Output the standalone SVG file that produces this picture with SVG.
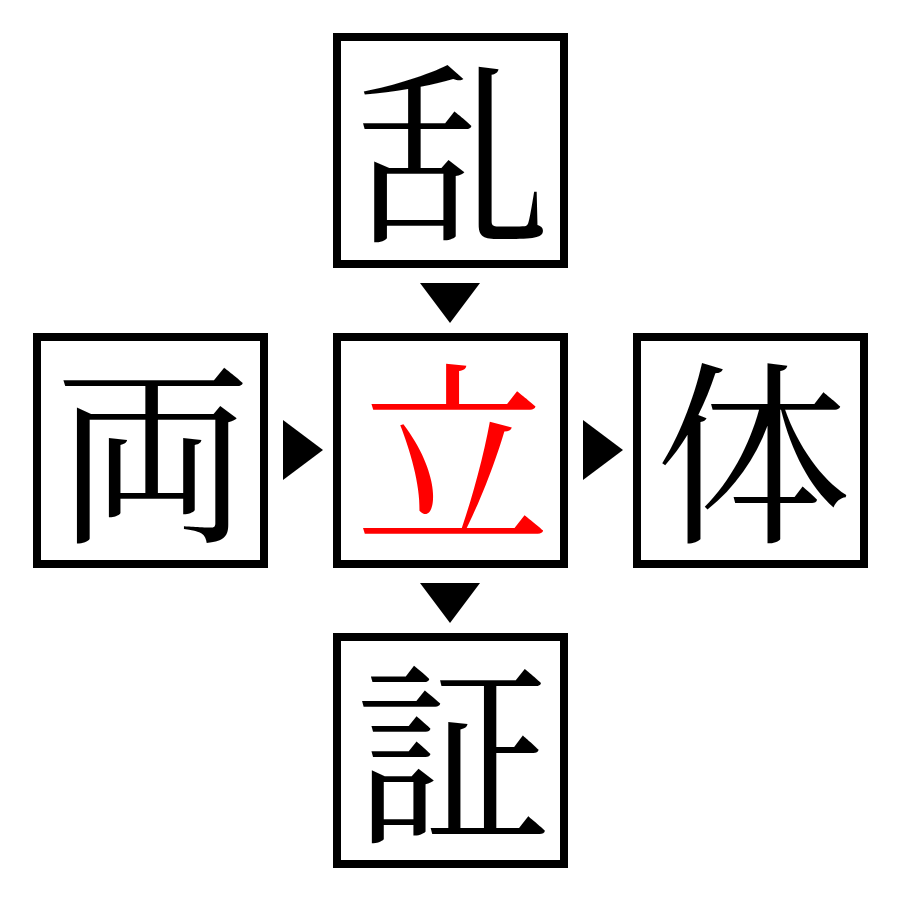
<svg xmlns="http://www.w3.org/2000/svg" width="900" height="900" viewBox="0 0 900 900">
<style>
.box{fill:#fff;stroke:#000;stroke-width:8}
.k{font-family:"Noto Serif CJK JP","Noto Sans CJK JP",serif;font-size:196px;text-anchor:middle;dominant-baseline:central;fill:#000}
.c{fill:#f00}
.tri{fill:#000}
</style>
<rect width="900" height="900" fill="#fff"/>
<g id="n-top"><rect class="box" x="337" y="37" width="227" height="227"/><text class="k" x="453" y="142">乱</text></g>
<g id="n-left"><rect class="box" x="37" y="337" width="227" height="227"/><text class="k" x="153" y="442">両</text></g>
<g id="n-center"><rect class="box" x="337" y="337" width="227" height="227"/><text class="k c" x="453" y="442">立</text></g>
<g id="n-right"><rect class="box" x="637" y="337" width="227" height="227"/><text class="k" x="753" y="442">体</text></g>
<g id="n-bottom"><rect class="box" x="337" y="637" width="227" height="227"/><text class="k" x="453" y="742">証</text></g>
<g id="connectors">
<polygon class="tri" points="420,283 480,283 450,323"/>
<polygon class="tri" points="283,420 323,450 283,480"/>
<polygon class="tri" points="583,420 623,450 583,480"/>
<polygon class="tri" points="420,583 480,583 450,623"/>
</g>
</svg>
